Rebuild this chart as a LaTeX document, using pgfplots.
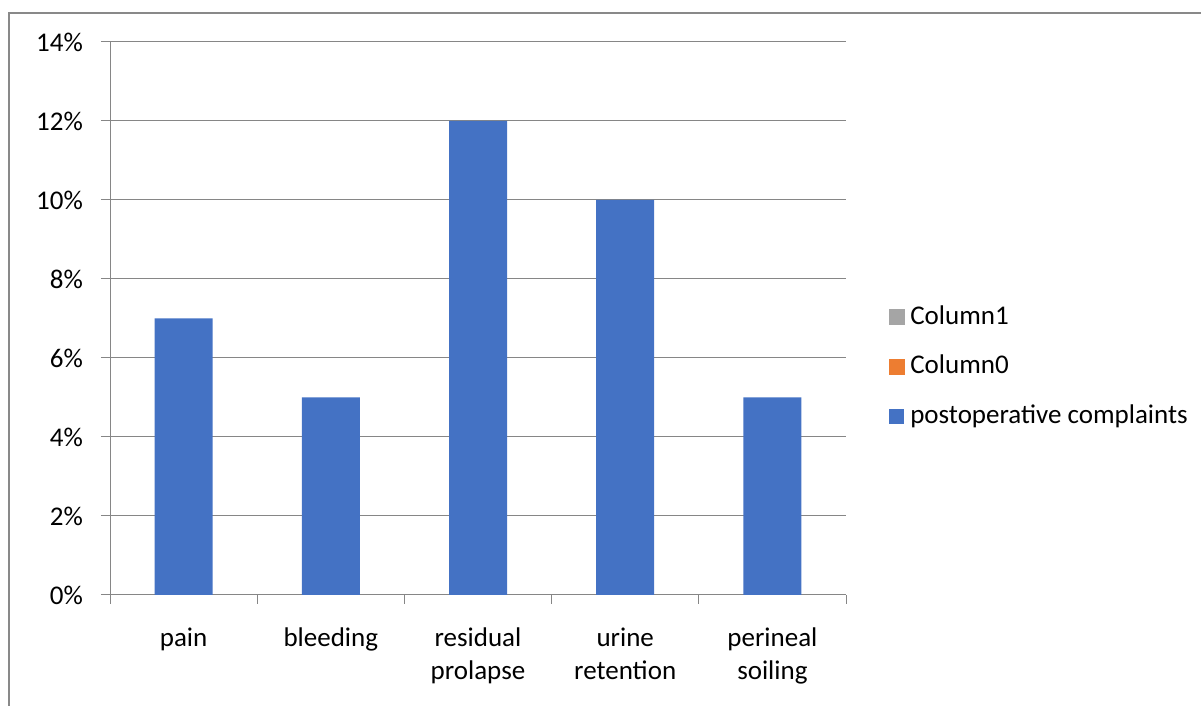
\documentclass[border=0pt]{standalone}
\usepackage{pgfplots}
\pgfplotsset{compat=1.18}
\usepackage{fontspec}
\setmainfont{Carlito}
\definecolor{barblue}{RGB}{68,114,196}
\definecolor{leggray}{RGB}{165,165,165}
\definecolor{legorange}{RGB}{237,125,49}
\definecolor{gridgray}{RGB}{134,134,134}
\definecolor{framegray}{RGB}{137,137,137}
\begin{document}
\begin{tikzpicture}[x=1pt,y=1pt]
\useasboundingbox (0,0) rectangle (1201,706);
\draw[framegray, line width=2pt] (9,-2) -- (9,693) -- (1203,693);
\begin{axis}[
  at={(110pt,111pt)}, anchor=south west,
  scale only axis, width=736pt, height=553pt,
  xmin=-0.5, xmax=4.5, ymin=0, ymax=14,
  axis x line*=bottom, axis y line*=left,
  axis line style={gridgray, line width=1pt},
  ymajorgrids, grid style={gridgray, line width=1pt},
  tick align=outside, major tick length=9pt,
  tick style={gridgray, line width=1pt},
  ytick={0,2,...,14},
  yticklabels={0\%,2\%,4\%,6\%,8\%,10\%,12\%,14\%},
  xtick={-0.5,0.5,...,4.5}, xticklabels={},
  extra x ticks={0,1,2,3,4},
  extra x tick labels={{\strut pain},{\strut bleeding},{\strut residual\\prolapse},{\strut urine\\retention},{\strut perineal\\soiling}},
  extra x tick style={major tick length=0pt, grid=none},
  xticklabel style={align=center, anchor=north, inner sep=0pt, yshift=-28pt},
  yticklabel style={anchor=east, inner sep=0pt, xshift=-18pt},
  tick label style={font=\fontsize{27}{33}\selectfont},
  /pgf/number format/assume math mode=true,
  legend style={draw=none, fill=none, at={(1.058,0.412)}, anchor=west,
    inner sep=0pt, font=\fontsize{27}{33}\selectfont,
    nodes={inner sep=0pt, text height=19pt, text depth=6pt},
    row sep=24.5pt, /tikz/every odd column/.append style={column sep=6pt}},
  legend cell align=left,
]
\addlegendimage{legend image code/.code={\fill[leggray] (0pt,-7pt) rectangle (15pt,8pt);}}
\addlegendentry{Column1}
\addlegendimage{legend image code/.code={\fill[legorange] (0pt,-7pt) rectangle (15pt,8pt);}}
\addlegendentry{Column0}
\addplot[ybar, bar width=58pt, fill=barblue, draw=none,
  legend image code/.code={\fill[barblue] (0pt,-7pt) rectangle (15pt,8pt);}]
  coordinates {(0,7) (1,5) (2,12) (3,10) (4,5)};
\addlegendentry{postoperative complaints}
\end{axis}
\end{tikzpicture}
\end{document}
